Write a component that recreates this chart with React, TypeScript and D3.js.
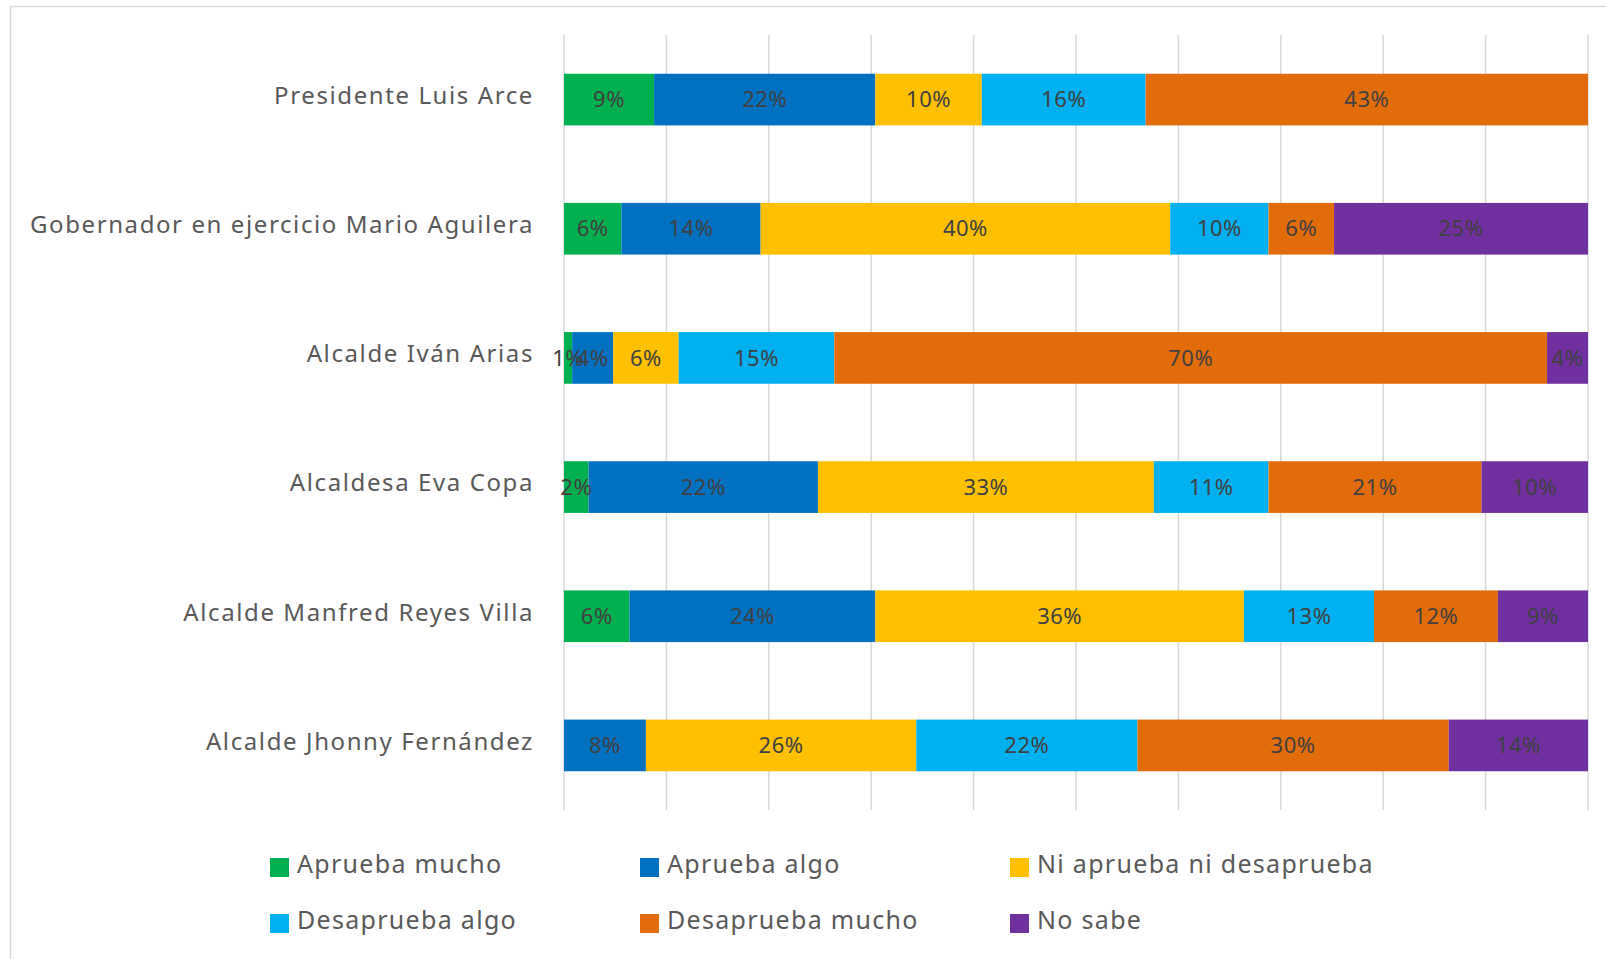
import { useMemo } from 'react';
import * as d3 from 'd3';

const categories = [
  'Presidente Luis Arce',
  'Gobernador en ejercicio Mario Aguilera',
  'Alcalde Iván Arias',
  'Alcaldesa Eva Copa',
  'Alcalde Manfred Reyes Villa',
  'Alcalde Jhonny Fernández',
];

const seriesNames = [
  'Aprueba mucho',
  'Aprueba algo',
  'Ni aprueba ni desaprueba',
  'Desaprueba algo',
  'Desaprueba mucho',
  'No sabe',
];

const seriesColors = ['#00B050', '#0070C0', '#FFC000', '#00B0F0', '#E36C0A', '#7030A0'];

// one array per series, same order as categories
const apruebaMucho = [8.8, 5.6, 0.8, 2.4, 6.4, 0];
const apruebaAlgo = [21.6, 13.6, 4.0, 22.4, 24.0, 8.0];
const ni = [10.4, 40.0, 6.4, 32.8, 36.0, 26.4];
const desapruebaAlgo = [16.0, 9.6, 15.2, 11.2, 12.7, 21.6];
const desapruebaMucho = [43.2, 6.4, 69.6, 20.8, 12.1, 30.4];
const noSabe = [0, 24.8, 4.0, 10.4, 8.8, 13.6];

const gridTicks = [0, 10, 20, 30, 40, 50, 60, 70, 80, 90, 100];

const W = 1606;
const H = 959;
const FONT = '"Noto Sans", "Open Sans", sans-serif';

const App = () => {
  const seriesValues = [apruebaMucho, apruebaAlgo, ni, desapruebaAlgo, desapruebaMucho, noSabe];

  const rows = useMemo(
    () =>
      categories.map((c, i) => {
        const r: Record<string, number | string> = { category: c };
        seriesNames.forEach((s, j) => {
          r[s] = seriesValues[j][i];
        });
        return r;
      }),
    []
  );

  const stacked = d3.stack<Record<string, number | string>>().keys(seriesNames)(rows as any);

  const x = d3.scaleLinear().domain([0, 100]).range([564, 1588]);
  const y = d3.scaleBand().domain(categories).range([35, 810]).paddingInner(0.6).paddingOuter(0.3);

  return (
    <svg
      width={W}
      height={H}
      style={{ position: 'absolute', left: 0, top: 0, background: '#fff' }}
      fontFamily={FONT}
    >
      <rect x={10.5} y={6.5} width={W} height={H} fill="#fff" stroke="#d9d9d9" strokeWidth={1.5} />

      {/* gridlines */}
      {gridTicks.map((t) => (
        <line key={t} x1={x(t)} x2={x(t)} y1={35} y2={810} stroke="#d9d9d9" strokeWidth={1.5} />
      ))}

      {/* bars */}
      {stacked.map((layer, j) => (
        <g key={layer.key} fill={seriesColors[j]}>
          {layer.map((d, i) => {
            const w = x(d[1]) - x(d[0]);
            if (w <= 0) return null;
            return (
              <rect key={i} x={x(d[0])} y={y(categories[i])} width={w} height={y.bandwidth()} />
            );
          })}
        </g>
      ))}

      {/* value labels */}
      {stacked.map((layer) =>
        layer.map((d, i) => {
          const v = d[1] - d[0];
          if (v <= 0) return null;
          return (
            <text
              key={layer.key + i}
              x={(x(d[0]) + x(d[1])) / 2}
              y={(y(categories[i]) || 0) + y.bandwidth() / 2}
              dy="0.35em"
              textAnchor="middle"
              fontSize={22}
              letterSpacing={0.5}
              fill="#404040"
            >
              {Math.round(v)}%
            </text>
          );
        })
      )}

      {/* category labels */}
      {categories.map((c) => (
        <text
          key={c}
          x={534}
          y={(y(c) || 0) + y.bandwidth() / 2 - 4}
          dy="0.35em"
          textAnchor="end"
          fontSize={24}
          letterSpacing={1.6}
          fill="#595959"
        >
          {c}
        </text>
      ))}

      {/* legend */}
      {seriesNames.map((s, j) => {
        const col = j % 3;
        const row = Math.floor(j / 3);
        const lx = 270 + col * 370;
        const ly = 858 + row * 56;
        return (
          <g key={s}>
            <rect x={lx} y={ly} width={19} height={19} fill={seriesColors[j]} />
            <text x={lx + 27} y={ly + 6.5} dy="0.35em" fontSize={25} letterSpacing={1.3} fill="#595959">
              {s}
            </text>
          </g>
        );
      })}
    </svg>
  );
};

export default App;
